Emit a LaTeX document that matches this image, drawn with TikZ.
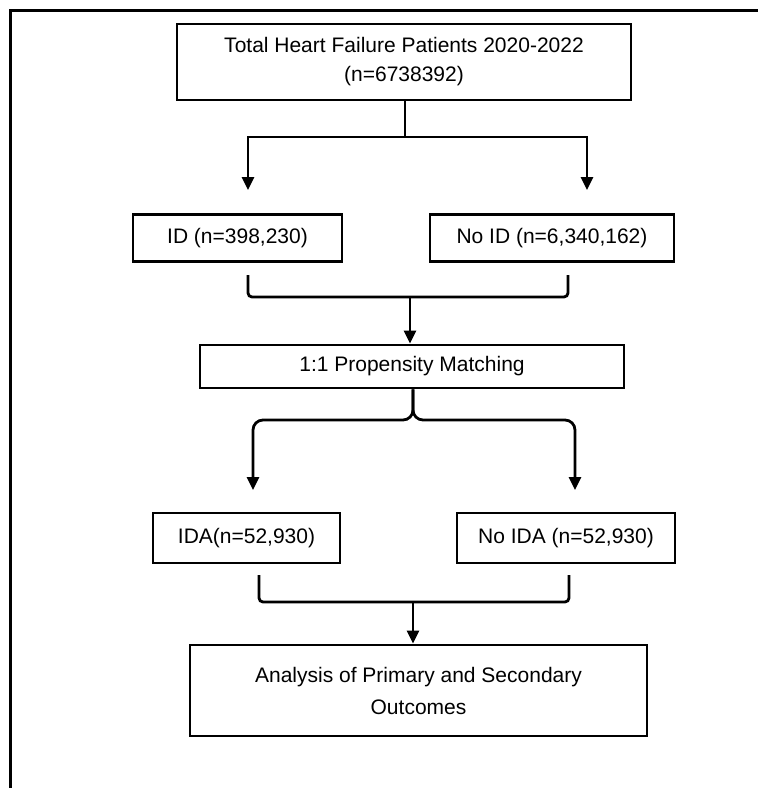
\documentclass[tikz,border=0pt]{standalone}
\usepackage{fontspec}
\setmainfont{Liberation Sans}
\usetikzlibrary{arrows.meta}
\begin{document}
\begin{tikzpicture}[x=1pt,y=-1pt,
  font=\fontsize{21}{29}\selectfont,
  box/.style={draw,line width=2.8pt,inner sep=0pt,align=center},
  line/.style={line width=2.8pt},
  arr/.style={line width=2.8pt,-{Triangle[width=12pt,length=13pt]}}]
\useasboundingbox (0,0) rectangle (758,788);
\draw[line width=3pt] (10,788) -- (10,10) -- (758,10);
\node[box,minimum width=454pt,minimum height=76pt] (total) at (404,62) {Total Heart Failure Patients 2020-2022\\(n=6738392)};
\node[box,minimum width=209pt,minimum height=47pt] (id) at (237.5,238) {ID (n=398,230)};
\node[box,minimum width=244pt,minimum height=47pt] (noid) at (552,238) {No ID (n=6,340,162)};
\node[box,minimum width=424pt,minimum height=43pt] (prop) at (412,366.5) {1:1 Propensity Matching};
\node[box,minimum width=187pt,minimum height=50pt] (ida) at (246.5,538) {IDA(n=52,930)};
\node[box,minimum width=218pt,minimum height=50pt] (noida) at (566,538) {No IDA (n=52,930)};
\node[box,minimum width=457pt,minimum height=91pt] (outc) at (418.5,690.5) {Analysis of Primary and Secondary\\[3pt]Outcomes};
\coordinate (f1) at (405,137);
\coordinate (t1l) at (248,190);
\coordinate (t1r) at (587,190);
\coordinate (b1l) at (248,275);
\coordinate (b1r) at (568,275);
\coordinate (j1) at (410,297);
\coordinate (j2) at (413,420);
\coordinate (t2l) at (253,490);
\coordinate (t2r) at (575,490);
\coordinate (b2l) at (259,575);
\coordinate (b2r) at (569,575);
\coordinate (j3) at (413,602);
\draw[line] (total.south -| f1) -- (f1);
\draw[arr] (f1) -| (t1l);
\draw[arr] (f1) -| (t1r);
\draw[line,rounded corners=4pt] (b1l) |- (j1) -| (b1r);
\draw[arr] (j1) -- (j1 |- prop.north);
\draw[arr,rounded corners=10pt] (prop.south -| j2) -- (j2) -| (t2l);
\draw[arr,rounded corners=10pt] (prop.south -| j2) -- (j2) -| (t2r);
\draw[line,rounded corners=4pt] (b2l) |- (j3) -| (b2r);
\draw[arr] (j3) -- (j3 |- outc.north);
\end{tikzpicture}
\end{document}
